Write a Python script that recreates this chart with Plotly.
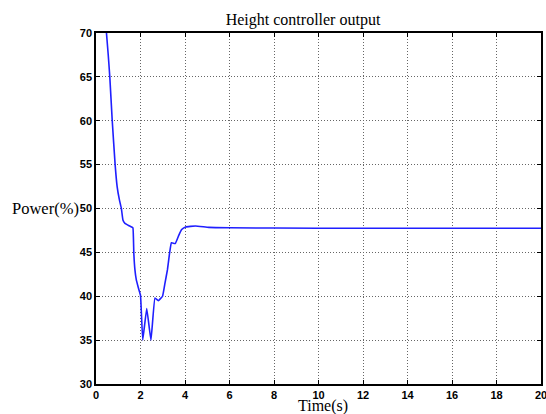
import plotly.graph_objects as go

time_s = [0.47, 0.55, 0.62, 0.73, 0.86, 0.95, 1.05, 1.14, 1.21, 1.30, 1.44, 1.60, 1.66,
          1.70, 1.75, 1.81, 1.90, 2.00, 2.10, 2.28, 2.47, 2.65, 2.80, 2.99, 3.10, 3.21,
          3.30, 3.39, 3.56, 3.73, 3.85, 4.03, 4.47, 5.07, 6.00, 10.0, 20.0]
power = [70.0, 67.5, 65.0, 60.0, 55.0, 52.5, 51.0, 50.0, 48.7, 48.3, 48.1, 47.9, 47.8,
         44.9, 43.0, 41.9, 41.0, 40.1, 35.0, 38.6, 35.0, 39.8, 39.5, 40.0, 41.5, 43.0,
         44.8, 46.1, 46.0, 47.0, 47.6, 47.9, 48.0, 47.85, 47.8, 47.75, 47.75]

x_ticks = [0, 2, 4, 6, 8, 10, 12, 14, 16, 18, 20]
y_ticks = [30, 35, 40, 45, 50, 55, 60, 65, 70]

fig = go.Figure()
fig.add_trace(go.Scatter(x=time_s, y=power, mode="lines",
                         line=dict(color="#1f1fff", width=1.6, shape="spline", smoothing=0.3),
                         showlegend=False, hoverinfo="skip"))

axis_common = dict(showline=True, linecolor="black", linewidth=1.5, mirror="ticks",
                   showgrid=True, gridcolor="#666666", griddash="1px,2px", gridwidth=1,
                   ticks="inside", ticklen=4, tickcolor="black", zeroline=False,
                   ticklabeloverflow="allow",
                   tickfont=dict(family="Liberation Sans, Arial", size=11, color="black"))

fig.update_xaxes(range=[0, 20], tickvals=x_ticks, ticktext=[str(v) for v in x_ticks],
                 **axis_common)
fig.update_yaxes(range=[30, 70], tickvals=y_ticks, ticktext=[str(v) for v in y_ticks],
                 **axis_common)

fig.update_layout(
    width=546, height=414,
    margin=dict(l=96, r=5, t=33, b=30, autoexpand=False),
    paper_bgcolor="white", plot_bgcolor="white",
    title=dict(text="Height controller output", x=0.555, xanchor="center", y=0.953,
               yanchor="middle",
               font=dict(family="Liberation Serif, Times New Roman", size=16, color="black")),
    annotations=[
        dict(text="Power(%)", xref="paper", yref="paper", x=-0.033, y=0.5,
             xanchor="right", yanchor="middle", showarrow=False,
             font=dict(family="Liberation Serif, Times New Roman", size=16.5, color="black")),
        dict(text="Time(s)", xref="paper", yref="paper", x=0.509, y=-0.063,
             xanchor="center", yanchor="middle", showarrow=False,
             font=dict(family="Liberation Serif, Times New Roman", size=16, color="black")),
    ],
)

fig.update_layout(xaxis_tickfont_weight="bold", yaxis_tickfont_weight="bold")

fig.write_html("out.html", config={"displayModeBar": False},
               post_script="document.body.style.margin='0';document.body.style.overflow='hidden';")
